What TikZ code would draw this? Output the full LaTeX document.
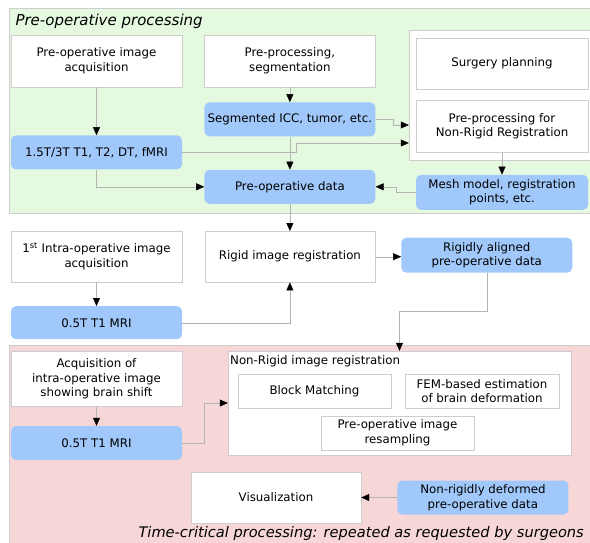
\documentclass[tikz,border=0pt]{standalone}
\usepackage{fontspec}
\setmainfont{DejaVu Sans}
\usepackage{tikz}
\usetikzlibrary{arrows.meta, positioning}

\definecolor{preop}{RGB}{229,249,224}
\definecolor{critical}{RGB}{246,214,214}
\definecolor{datablue}{RGB}{160,200,250}
\definecolor{edgegray}{RGB}{205,205,205}
\definecolor{linegray}{RGB}{180,180,180}

\tikzset{
  stage/.style={draw=edgegray, fill=white, inner sep=0pt, align=center,
    minimum width=171pt, minimum height=52pt},
  data/.style={fill=datablue, rounded corners=5pt, inner sep=0pt, align=center,
    minimum width=171pt, minimum height=34pt},
  substage/.style={stage, minimum width=153pt, minimum height=34pt},
  link/.style={draw=linegray, -{Triangle[length=8pt,width=7pt,color=black]}},
  region title/.style={anchor=west, font=\fontsize{15}{18}\selectfont\itshape},
}

\begin{document}
\begin{tikzpicture}[x=1pt, y=-1pt, font=\fontsize{11.8}{14.6}\selectfont]
  \useasboundingbox (0,0) rectangle (590,542);
  \clip (0,0) rectangle (590,542);

  % regions
  \draw[draw=edgegray, fill=preop] (9,8) rectangle (600,213);
  \draw[draw=edgegray, fill=critical] (9,345) rectangle (600,560);
  \node[region title] (pretitle) at (12,21) {Pre-operative processing};
  \node[region title, font=\fontsize{14.6}{17}\selectfont\itshape] (crittitle) at (135,533) {Time-critical processing: repeated as requested by surgeons};

  % pre-operative part
  \node[stage] (acq) at (96.5,61) {Pre-operative image\\acquisition};
  \node[stage, right=22pt of acq] (prep) {Pre-processing,\\segmentation};
  \node[data, below=15pt of prep] (segm) {Segmented ICC, tumor, etc.};
  \node[data, below=48pt of acq] (mri) {1.5T/3T T1, T2, DT, fMRI};
  \node[data, below=33pt of segm] (predata) {Pre-operative data};

  \node[draw=edgegray, fill=white, minimum width=191pt, minimum height=130pt, inner sep=0pt] (plangrp) at (504.5,95) {};
  \node[stage, minimum width=172pt, minimum height=51pt] (plan) at (502,63.5) {Surgery planning};
  \node[stage, minimum width=172pt, below=11pt of plan] (nrprep) {Pre-processing for\\Non-Rigid Registration};
  \node[data, minimum width=172pt, minimum height=35pt, below=22pt of nrprep] (mesh) {Mesh model, registration\\points, etc.};

  % rigid registration
  \node[stage, minimum height=51pt, below=61pt of mri] (intra) {1\textsuperscript{st} Intra-operative image\\acquisition};
  \node[stage, minimum width=170pt, minimum height=51pt, below=27pt of predata] (rigid) {Rigid image registration};
  \node[data, minimum height=35pt, right=26pt of rigid, yshift=1.5pt] (aligned) {Rigidly aligned\\pre-operative data};
  \node[data, minimum height=33pt, below=24pt of intra] (mri1) {0.5T T1 MRI};

  % time-critical part
  \node[stage, minimum height=55pt, below=12pt of mri1] (shift) {Acquisition of\\intra-operative image\\showing brain shift};
  \node[data, below=19pt of shift] (mri2) {0.5T T1 MRI};
  \node[stage, minimum width=343pt, minimum height=104pt] (nrreg) at (399.5,403) {};
  \node[anchor=west, inner sep=0pt] (nrlabel) at (230,361) {Non-Rigid image registration};
  \node[substage] (block) at (314.5,391) {Block Matching};
  \node[substage, minimum width=154pt] (fem) at (482,391) {FEM-based estimation\\of brain deformation};
  \node[substage] (resamp) at (397.5,433) {Pre-operative image\\resampling};
  \node[stage, minimum width=170pt, minimum height=51pt] (vis) at (276,497.5) {Visualization};
  \node[data, right=36pt of vis] (deformed) {Non-rigidly deformed\\pre-operative data};

  % connectors
  \draw[link] (acq) -- (mri);
  \draw[link] (prep) -- (segm);
  \draw[link] (segm.east) -- ++(18,0) |- ([yshift=-30pt]plangrp.west);
  \draw[link] (mri.east) -- ++(114,0) |- ([yshift=-48pt]plangrp.west);
  \draw[link] (segm) -- (predata);
  \draw[link] (mri.south) |- (predata.west);
  \draw[link] (nrprep) -- (mesh);
  \draw[link] (mesh.west) -- ++(-20,0) |- (predata.east);
  \draw[link] (predata) -- (rigid);
  \draw[link] (rigid.east) -- (rigid.east -| aligned.west);
  \draw[link] (intra) -- (mri1);
  \draw[link] (mri1.east) -| (rigid.south);
  \draw[link] (aligned.south) -- ++(0,38) -| (nrreg.north);
  \draw[link] (shift) -- (mri2);
  \draw[link] (mri2.east) -- ++(22,0) |- (nrreg.west);
  \draw[link] (deformed) -- (vis);
\end{tikzpicture}
\end{document}
